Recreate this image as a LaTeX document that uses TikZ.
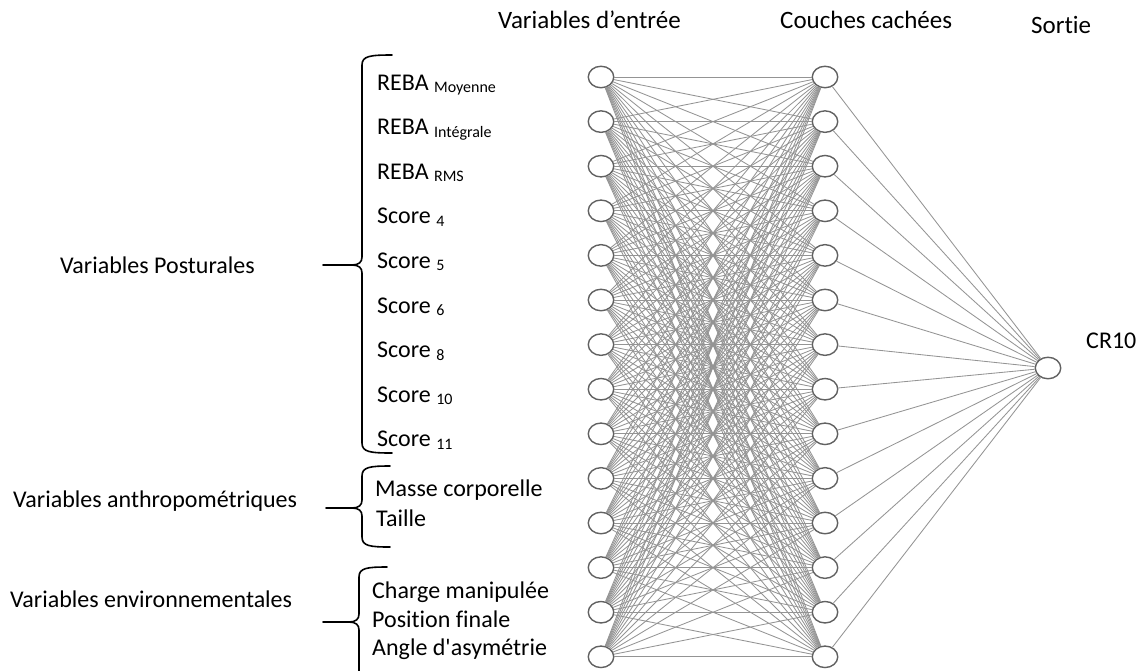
\documentclass[tikz,border=0pt]{standalone}
\usepackage{fontspec}
\setmainfont{Carlito}[Ligatures=CommonOff]
\font\straight="Carlito" at 24pt
\usetikzlibrary{shapes.geometric}
\tikzset{
  neuron/.style={ellipse, draw=black!62, line width=1.4pt, fill=white,
    minimum width=25.5pt, minimum height=21.5pt, inner sep=0pt},
  syn/.style={draw=black!42, line width=0.85pt},
  lbl/.style={anchor=base west, inner sep=0pt, font=\fontsize{24}{24}\selectfont},
  hdr/.style={anchor=base west, inner sep=0pt, font=\fontsize{25}{25}\selectfont},
  bracestroke/.style={draw=black, line width=1.6pt, line cap=round, line join=round},
}
\newcommand{\sbs}[1]{\raisebox{-2.5pt}{\fontsize{16}{16}\selectfont #1}}
% x, top, bottom, tip, left end, hook end
\newcommand{\mybrace}[6]{%
  \draw[bracestroke] (#6,#2) .. controls ({#1+8},#2) and (#1,{#2+1}) .. (#1,{#2+10})
     -- (#1,{#4-8}) .. controls (#1,{#4-3}) and ({#1-3},#4) .. ({#1-10},#4) -- (#5,#4);
  \draw[bracestroke] ({#1-10},#4) .. controls ({#1-3},#4) and (#1,{#4+3}) .. (#1,{#4+8})
     -- (#1,{#3-10}) .. controls (#1,{#3-1}) and ({#1+8},#3) .. (#6,#3);
}
\begin{document}
\begin{tikzpicture}[x=1pt,y=-1pt]
\useasboundingbox (0,0) rectangle (1139,670);

% neurons
\foreach \k in {1,...,14} {
  \node[neuron] (i\k) at (601,{77+(\k-1)*44.6}) {};
  \node[neuron] (h\k) at (825,{77+(\k-1)*44.6}) {};
}
\node[neuron] (o) at (1048,368) {};

% connections
\foreach \a in {1,...,14} {
  \foreach \b in {1,...,14} {
    \draw[syn] (i\a) -- (h\b);
  }
}
\foreach \b in {1,...,14} {
  \draw[syn] (h\b) -- (o);
}

% headers
\node[hdr] (hin) at (498,28) {Variables d’entrée};
\node[hdr] (hhid) at (780,28) {Couches cachées};
\node[hdr] (hout) at (1031,33) {Sortie};
\node[lbl] (cr) at (1086,348) {CR10};

% input labels
\node[lbl] (v1) at (377,90.0) {REBA \sbs{Moyenne}};
\node[lbl] (v2) at (377,134.6) {REBA \sbs{Intégrale}};
\node[lbl] (v3) at (377,179.2) {REBA \sbs{RMS}};
\node[lbl] (v4) at (377,223.8) {Score \sbs{4}};
\node[lbl] (v5) at (377,268.4) {Score \sbs{5}};
\node[lbl] (v6) at (377,313.0) {Score \sbs{6}};
\node[lbl] (v7) at (377,357.6) {Score \sbs{8}};
\node[lbl] (v8) at (377,402.2) {Score \sbs{10}};
\node[lbl] (v9) at (377,446.8) {Score \sbs{11}};
\node[lbl] (v10) at (375,496) {Masse corporelle};
\node[lbl] (v11) at (376,526) {Taille};
\node[lbl] (v12) at (372,598) {Charge manipulée};
\node[lbl] (v13) at (372,627) {Position finale};
\node[lbl] (v14) at (372,655) {Angle d{\straight '}asymétrie};

% group labels
\node[lbl] (gp) at (60,273) {Variables Posturales};
\node[lbl] (ga) at (13,507) {Variables anthropométriques};
\node[lbl] (ge) at (10,607) {Variables environnementales};

% braces
\mybrace{362}{55}{453}{265}{323}{392}
\mybrace{362}{466}{547}{508}{326}{390}
\draw[bracestroke] (387,567) .. controls (367,567) and (359,568) .. (359,577)
   -- (359,614) .. controls (359,619) and (356,622) .. (349,622) -- (323,622);
\draw[bracestroke] (349,622) .. controls (356,622) and (359,625) .. (359,630) -- (359,672);
\end{tikzpicture}
\end{document}
